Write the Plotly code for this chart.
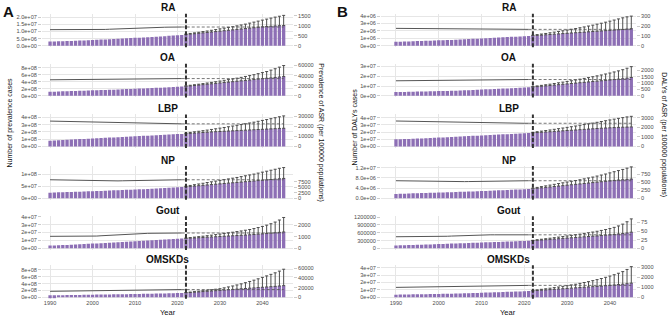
import plotly.graph_objects as go

W, H = 669, 318
years = list(range(1990, 2046))
proj_years = list(range(2022, 2046))
N_HIST = 32

# ---------------- Panel A : prevalence ----------------
A_RA_cases = [2.9,3.0,3.1,3.2,3.3,3.4,3.5,3.6,3.75,3.9,
              4.0,4.15,4.3,4.45,4.6,4.75,4.9,5.05,5.2,5.35,
              5.5,5.65,5.8,5.95,6.1,6.3,6.5,6.7,6.9,7.1,
              7.3,7.55,
              7.8,8.1,8.4,8.7,9.0,9.3,9.6,9.9,10.2,10.5,
              10.8,11.1,11.4,11.7,12.0,12.3,12.6,12.9,13.2,13.4,
              13.6,13.8,14.0,14.1]  # x1e6
A_RA_upper = [8.2,8.6,9.0,9.4,9.9,10.3,10.8,11.3,11.8,12.3,
              12.8,13.3,13.9,14.5,15.1,15.8,16.5,17.2,17.9,18.6,
              19.3,20.0,20.6,21.2]  # x1e6
A_RA_asr = [800,798,796,794,792,790,789,788,787,786,
            785,792,800,810,820,830,842,855,866,875,
            880,886,892,898,904,910,915,920,924,927,
            929,930,
            930,930,930,930,930,930,930,930,930,930,
            930,930,930,930,930,930,930,930,930,930,
            930,930,930,930]

A_OA_cases = [1.15,1.19,1.23,1.27,1.31,1.35,1.39,1.43,1.47,1.51,
              1.55,1.59,1.63,1.67,1.71,1.76,1.81,1.86,1.91,1.96,
              2.01,2.06,2.11,2.16,2.21,2.26,2.31,2.37,2.43,2.49,
              2.55,2.62,
              2.70,2.82,2.94,3.06,3.18,3.30,3.42,3.54,3.66,3.78,
              3.90,4.02,4.14,4.26,4.38,4.50,4.62,4.74,4.86,4.98,
              5.10,5.22,5.34,5.46]  # x1e8
A_OA_upper = [2.85,3.0,3.15,3.3,3.47,3.64,3.82,4.0,4.2,4.4,
              4.6,4.8,5.02,5.25,5.5,5.75,6.0,6.3,6.6,6.9,
              7.3,7.7,8.15,8.6]  # x1e8
A_OA_asr = [31600,31650,31700,31750,31800,31850,31900,31950,32000,32050,
            32100,32200,32300,32400,32500,32650,32800,32950,33100,33250,
            33400,33500,33600,33700,33750,33800,33850,33900,33950,33980,
            34000,34000,
            34000,34000,34000,34000,34000,34000,34000,34000,34000,34000,
            34000,34000,34000,34000,34000,34000,34000,34000,34000,34000,
            34000,34000,34000,34000]

A_LBP_cases = [0.80,0.83,0.86,0.89,0.92,0.95,0.98,1.01,1.04,1.07,
               1.10,1.13,1.16,1.19,1.22,1.25,1.28,1.31,1.34,1.37,
               1.40,1.43,1.46,1.49,1.52,1.55,1.58,1.61,1.64,1.67,
               1.70,1.73,
               1.76,1.80,1.84,1.88,1.92,1.96,2.00,2.03,2.06,2.09,
               2.12,2.15,2.18,2.21,2.24,2.27,2.30,2.33,2.36,2.39,
               2.42,2.45,2.48,2.50]  # x1e8
A_LBP_upper = [1.85,1.93,2.01,2.09,2.17,2.25,2.34,2.43,2.52,2.61,
               2.71,2.81,2.91,3.01,3.12,3.23,3.34,3.46,3.58,3.70,
               3.82,3.95,4.08,4.20]  # x1e8
A_LBP_asr = [25300,25200,25100,25000,24900,24800,24700,24600,24500,24400,
             24300,24200,24100,24000,23900,23800,23700,23600,23500,23400,
             23300,23200,23100,23000,22900,22800,22700,22650,22600,22580,
             22560,22550,
             22550,22550,22550,22550,22550,22550,22550,22550,22550,22550,
             22550,22550,22550,22550,22550,22550,22550,22550,22550,22550,
             22550,22550,22550,22550]

A_NP_cases = [2.30,2.36,2.42,2.48,2.54,2.60,2.66,2.72,2.78,2.84,
              2.90,2.97,3.04,3.11,3.18,3.25,3.32,3.39,3.46,3.53,
              3.60,3.68,3.76,3.84,3.92,4.00,4.10,4.20,4.30,4.40,
              4.50,4.60,
              4.75,4.90,5.05,5.20,5.35,5.50,5.65,5.80,5.95,6.10,
              6.25,6.40,6.55,6.70,6.85,7.00,7.15,7.30,7.45,7.60,
              7.75,7.90,8.05,8.20]  # x1e7
A_NP_upper = [5.0,5.3,5.6,5.9,6.2,6.5,6.8,7.1,7.4,7.7,
              8.0,8.3,8.6,8.95,9.3,9.65,10.0,10.4,10.8,11.2,
              11.6,12.0,12.4,12.7]  # x1e7
A_NP_asr = [8400,8350,8300,8250,8200,8150,8100,8050,8000,7950,
            7900,7850,7820,7800,7810,7840,7880,7930,7980,8040,
            8100,8150,8200,8250,8300,8340,8370,8390,8400,8400,
            8400,8400,
            8400,8400,8400,8400,8400,8400,8400,8400,8400,8400,
            8400,8400,8400,8400,8400,8400,8400,8400,8400,8400,
            8400,8400,8400,8400]

A_Gout_cases = [3.5,3.7,3.9,4.1,4.3,4.5,4.8,5.1,5.4,5.7,
                6.0,6.3,6.6,6.9,7.2,7.5,7.8,8.1,8.4,8.7,
                9.0,9.3,9.6,9.9,10.2,10.5,10.8,11.1,11.4,11.7,
                12.0,12.3,
                12.6,12.9,13.2,13.5,13.8,14.1,14.4,14.7,15.0,15.3,
                15.6,15.9,16.2,16.5,16.8,17.1,17.5,17.9,18.3,18.7,
                19.2,19.7,20.2,20.7]  # x1e6
A_Gout_upper = [13.0,13.6,14.2,14.8,15.4,16.0,16.7,17.4,18.1,18.8,
                19.6,20.4,21.2,22.0,22.9,23.8,25.0,26.3,27.7,29.3,
                31.1,33.2,35.8,39.0]  # x1e6
A_Gout_asr = [1050,1048,1046,1044,1042,1040,1040,1042,1045,1048,
              1052,1075,1100,1125,1150,1175,1200,1225,1250,1270,
              1285,1295,1305,1312,1318,1324,1330,1334,1337,1339,
              1340,1340,
              1340,1340,1340,1340,1340,1340,1340,1340,1340,1340,
              1340,1340,1340,1340,1340,1340,1340,1340,1340,1340,
              1340,1340,1340,1340]

A_OMSKDs_cases = [0.55,0.57,0.59,0.61,0.63,0.65,0.67,0.69,0.71,0.73,
                  0.75,0.77,0.79,0.81,0.83,0.85,0.87,0.89,0.91,0.93,
                  0.95,0.97,0.99,1.01,1.04,1.07,1.10,1.13,1.16,1.19,
                  1.22,1.26,
                  1.30,1.39,1.48,1.57,1.66,1.75,1.84,1.93,2.02,2.11,
                  2.20,2.29,2.38,2.47,2.56,2.65,2.74,2.83,2.92,3.01,
                  3.10,3.19,3.29,3.40]  # x1e8
A_OMSKDs_upper = [1.40,1.52,1.65,1.78,1.92,2.06,2.20,2.35,2.50,2.75,
                  3.02,3.30,3.60,3.92,4.26,4.62,5.00,5.40,5.82,6.25,
                  6.70,7.15,7.65,8.20]  # x1e8
A_OMSKDs_asr = [12300,12450,12600,12750,12900,13050,13200,13350,13500,13650,
                13800,14000,14200,14400,14600,14800,15000,15200,15400,15600,
                15800,15850,15900,15950,16000,16000,16000,16000,16000,16000,
                16000,16000,
                16000,16000,16000,16000,16000,16000,16000,16000,16000,16000,
                16000,16000,16000,16000,16000,16000,16000,16000,16000,16000,
                16000,16000,16000,16000]

# ---------------- Panel B : DALYs ----------------
B_RA_cases = [0.53,0.55,0.57,0.59,0.61,0.63,0.65,0.67,0.69,0.71,
              0.73,0.75,0.77,0.79,0.81,0.84,0.87,0.90,0.93,0.96,
              0.99,1.02,1.05,1.08,1.11,1.14,1.17,1.20,1.23,1.26,
              1.29,1.32,
              1.36,1.40,1.44,1.48,1.52,1.56,1.60,1.64,1.68,1.72,
              1.76,1.80,1.84,1.88,1.92,1.96,2.00,2.04,2.08,2.12,
              2.16,2.20,2.25,2.30]  # x1e6
B_RA_upper = [1.42,1.50,1.58,1.66,1.75,1.84,1.93,2.02,2.12,2.22,
              2.32,2.43,2.54,2.66,2.78,2.91,3.04,3.18,3.32,3.47,
              3.62,3.77,3.90,4.00]  # x1e6
B_RA_asr = [176,175.5,175,174.5,174,173.5,173,172.5,172,171.5,
            171,170.5,170,169.6,169.2,168.8,168.4,168,167.7,167.4,
            167.1,166.8,166.5,166.3,166.1,166,166,166,166,166,
            166,166,
            166,166,166,166,166,166,166,166,166,166,
            166,166,166,166,166,166,166,166,166,166,
            166,166,166,166]

B_OA_cases = [0.38,0.39,0.40,0.41,0.42,0.43,0.44,0.45,0.46,0.47,
              0.48,0.49,0.50,0.51,0.52,0.54,0.56,0.58,0.60,0.62,
              0.64,0.66,0.68,0.70,0.72,0.74,0.76,0.78,0.80,0.82,
              0.84,0.87,
              0.90,0.94,0.98,1.02,1.06,1.10,1.14,1.18,1.22,1.26,
              1.30,1.34,1.38,1.42,1.46,1.50,1.54,1.58,1.62,1.66,
              1.70,1.74,1.80,1.87]  # x1e7
B_OA_upper = [0.95,1.01,1.07,1.13,1.19,1.26,1.33,1.40,1.47,1.54,
              1.62,1.70,1.78,1.86,1.95,2.04,2.13,2.23,2.33,2.44,
              2.55,2.67,2.82,2.98]  # x1e7
B_OA_asr = [1170,1172,1174,1176,1178,1180,1182,1184,1186,1188,
            1190,1195,1200,1205,1210,1215,1220,1225,1230,1235,
            1240,1245,1250,1254,1258,1261,1264,1266,1268,1269,
            1270,1270,
            1270,1270,1270,1270,1270,1270,1270,1270,1270,1270,
            1270,1270,1270,1270,1270,1270,1270,1270,1270,1270,
            1270,1270,1270,1270]

B_LBP_cases = [0.99,1.01,1.03,1.05,1.07,1.09,1.11,1.14,1.17,1.20,
               1.23,1.26,1.29,1.32,1.35,1.38,1.41,1.44,1.47,1.50,
               1.53,1.56,1.59,1.62,1.65,1.68,1.71,1.74,1.77,1.80,
               1.83,1.86,
               1.89,1.93,1.97,2.01,2.05,2.09,2.13,2.17,2.21,2.25,
               2.29,2.33,2.37,2.41,2.45,2.49,2.53,2.56,2.59,2.62,
               2.65,2.67,2.69,2.71]  # x1e7
B_LBP_upper = [1.97,2.05,2.13,2.21,2.29,2.38,2.47,2.56,2.65,2.74,
               2.84,2.94,3.04,3.14,3.24,3.35,3.46,3.57,3.68,3.79,
               3.90,4.00,4.10,4.18]  # x1e7
B_LBP_asr = [2650,2640,2630,2620,2610,2600,2590,2580,2570,2560,
             2550,2540,2530,2520,2510,2500,2490,2480,2470,2462,
             2455,2448,2441,2435,2430,2425,2420,2417,2415,2415,
             2415,2415,
             2415,2415,2415,2415,2415,2415,2415,2415,2415,2415,
             2415,2415,2415,2415,2415,2415,2415,2415,2415,2415,
             2415,2415,2415,2415]

B_NP_cases = [1.70,1.75,1.80,1.85,1.90,1.95,2.00,2.05,2.10,2.15,
              2.20,2.26,2.32,2.38,2.44,2.50,2.56,2.62,2.68,2.74,
              2.80,2.87,2.94,3.01,3.08,3.15,3.22,3.30,3.38,3.46,
              3.54,3.62,
              3.75,3.92,4.09,4.26,4.43,4.60,4.77,4.94,5.11,5.28,
              5.45,5.62,5.79,5.96,6.13,6.30,6.47,6.64,6.81,6.98,
              7.12,7.25,7.38,7.50]  # x1e6
B_NP_upper = [3.95,4.25,4.55,4.85,5.15,5.45,5.75,6.05,6.35,6.65,
              6.95,7.25,7.60,7.95,8.30,8.70,9.10,9.50,9.95,10.4,
              10.85,11.3,11.8,12.3]  # x1e6
B_NP_asr = [545,542,539,536,533,530,527,524,521,518,
            516,515,514,514,514,515,517,519,522,525,
            528,531,534,537,540,542,544,545,545,545,
            545,545,
            545,545,545,545,545,545,545,545,545,545,
            545,545,545,545,545,545,545,545,545,545,
            545,545,545,545]

B_Gout_cases = [1.10,1.15,1.20,1.25,1.30,1.35,1.40,1.46,1.52,1.58,
                1.64,1.70,1.76,1.82,1.88,1.94,2.00,2.06,2.12,2.18,
                2.24,2.30,2.36,2.42,2.48,2.54,2.60,2.66,2.72,2.78,
                2.84,2.90,
                2.98,3.10,3.22,3.34,3.46,3.58,3.70,3.82,3.94,4.06,
                4.18,4.30,4.42,4.54,4.66,4.78,4.92,5.06,5.20,5.34,
                5.50,5.68,5.90,6.20]  # x1e5
B_Gout_upper = [3.10,3.30,3.50,3.70,3.90,4.10,4.32,4.54,4.76,4.98,
                5.22,5.46,5.72,5.98,6.26,6.56,6.88,7.22,7.60,8.05,
                8.60,9.30,10.20,11.30]  # x1e5
B_Gout_asr = [33.7,33.7,33.6,33.6,33.5,33.5,33.5,33.6,33.7,33.8,
              33.9,34.5,35.1,35.7,36.3,36.9,37.4,37.9,38.4,38.8,
              39.1,39.2,39.3,39.3,39.3,39.3,39.3,39.3,39.3,39.3,
              39.3,39.3,
              39.3,39.3,39.3,39.3,39.3,39.3,39.3,39.3,39.3,39.3,
              39.3,39.3,39.3,39.3,39.3,39.3,39.3,39.3,39.3,39.3,
              39.3,39.3,39.3,39.3]

B_OMSKDs_cases = [0.35,0.36,0.37,0.38,0.39,0.40,0.41,0.42,0.43,0.44,
                  0.45,0.46,0.47,0.48,0.49,0.51,0.53,0.55,0.57,0.59,
                  0.61,0.63,0.65,0.67,0.69,0.71,0.73,0.75,0.77,0.79,
                  0.81,0.84,
                  0.87,0.91,0.95,0.99,1.03,1.07,1.11,1.15,1.19,1.23,
                  1.27,1.31,1.35,1.39,1.43,1.47,1.51,1.56,1.61,1.66,
                  1.71,1.76,1.83,1.90]  # x1e7
B_OMSKDs_upper = [0.93,1.00,1.07,1.14,1.22,1.30,1.38,1.47,1.56,1.66,
                  1.76,1.87,1.99,2.11,2.24,2.38,2.53,2.69,2.86,3.04,
                  3.24,3.46,3.75,4.13]  # x1e7
B_OMSKDs_asr = [990,995,1000,1005,1010,1015,1020,1025,1030,1035,
                1040,1050,1060,1070,1080,1090,1100,1110,1120,1130,
                1140,1150,1158,1165,1171,1176,1180,1184,1187,1189,
                1190,1190,
                1190,1190,1190,1190,1190,1190,1190,1190,1190,1190,
                1190,1190,1190,1190,1190,1190,1190,1190,1190,1190,
                1190,1190,1190,1190]

# tick labels
A_left_ticks = {
    "RA": ([0, 5e6, 1e7, 1.5e7, 2e7], ["0.0e+00", "5.0e+06", "1.0e+07", "1.5e+07", "2.0e+07"]),
    "OA": ([0, 2e8, 4e8, 6e8, 8e8], ["0e+00", "2e+08", "4e+08", "6e+08", "8e+08"]),
    "LBP": ([0, 1e8, 2e8, 3e8, 4e8], ["0e+00", "1e+08", "2e+08", "3e+08", "4e+08"]),
    "NP": ([0, 5e7, 1e8], ["0e+00", "5e+07", "1e+08"]),
    "Gout": ([0, 1e7, 2e7, 3e7, 4e7], ["0e+00", "1e+07", "2e+07", "3e+07", "4e+07"]),
    "OMSKDs": ([0, 2e8, 4e8, 6e8, 8e8], ["0e+00", "2e+08", "4e+08", "6e+08", "8e+08"]),
}
A_right_ticks = {
    "RA": [0, 500, 1000, 1500],
    "OA": [0, 20000, 40000, 60000],
    "LBP": [0, 10000, 20000, 30000],
    "NP": [0, 2500, 5000, 7500],
    "Gout": [0, 1000, 2000],
    "OMSKDs": [0, 20000, 40000, 60000],
}
B_left_ticks = {
    "RA": ([0, 1e6, 2e6, 3e6, 4e6], ["0e+00", "1e+06", "2e+06", "3e+06", "4e+06"]),
    "OA": ([0, 1e7, 2e7, 3e7], ["0e+00", "1e+07", "2e+07", "3e+07"]),
    "LBP": ([0, 1e7, 2e7, 3e7, 4e7], ["0e+00", "1e+07", "2e+07", "3e+07", "4e+07"]),
    "NP": ([0, 4e6, 8e6, 1.2e7], ["0.0e+00", "4.0e+06", "8.0e+06", "1.2e+07"]),
    "Gout": ([0, 3e5, 6e5, 9e5, 1.2e6], ["0", "300000", "600000", "900000", "1200000"]),
    "OMSKDs": ([0, 1e7, 2e7, 3e7, 4e7], ["0e+00", "1e+07", "2e+07", "3e+07", "4e+07"]),
}
B_right_ticks = {
    "RA": [0, 100, 200, 300],
    "OA": [0, 500, 1000, 1500, 2000],
    "LBP": [0, 1000, 2000, 3000],
    "NP": [0, 250, 500, 750],
    "Gout": [0, 25, 50, 75],
    "OMSKDs": [0, 1000, 2000, 3000],
}
year_ticks = [1990, 2000, 2010, 2020, 2030, 2040]
diseases = ["RA", "OA", "LBP", "NP", "Gout", "OMSKDs"]

# per panel: (cases, unit, upper, asr, left_top, right_top)
panelsA = {
    "RA": (A_RA_cases, 1e6, A_RA_upper, A_RA_asr, 2.24e7, 1593),
    "OA": (A_OA_cases, 1e8, A_OA_upper, A_OA_asr, 9.12e8, 63300),
    "LBP": (A_LBP_cases, 1e8, A_LBP_upper, A_LBP_asr, 4.41e8, 31970),
    "NP": (A_NP_cases, 1e7, A_NP_upper, A_NP_asr, 1.33e8, 14600),
    "Gout": (A_Gout_cases, 1e6, A_Gout_upper, A_Gout_asr, 4.05e7, 2800),
    "OMSKDs": (A_OMSKDs_cases, 1e8, A_OMSKDs_upper, A_OMSKDs_asr, 9.39e8, 66550),
}
panelsB = {
    "RA": (B_RA_cases, 1e6, B_RA_upper, B_RA_asr, 4.33e6, 325),
    "OA": (B_OA_cases, 1e7, B_OA_upper, B_OA_asr, 3.28e7, 2500),
    "LBP": (B_LBP_cases, 1e7, B_LBP_upper, B_LBP_asr, 4.45e7, 3340),
    "NP": (B_NP_cases, 1e6, B_NP_upper, B_NP_asr, 1.26e7, 1000),
    "Gout": (B_Gout_cases, 1e5, B_Gout_upper, B_Gout_asr, 1.23e6, 93),
    "OMSKDs": (B_OMSKDs_cases, 1e7, B_OMSKDs_upper, B_OMSKDs_asr, 4.33e7, 3218),
}
for d in (panelsA, panelsB):
    for k, v in d.items():
        assert len(v[0]) == 56 and len(v[2]) == 24 and len(v[3]) == 56, k

FONT = "Liberation Sans, Arial, sans-serif"
BAR_COLOR = "#8d6fb5"
ERR_COLOR = "#4d4d4d"
LINE_COLOR = "#555555"
GRID = "#e6e6e6"
TICKFONT = dict(size=5.6, color="#4d4d4d", family=FONT)

zero_px = [43.3, 94.0, 145.3, 197.7, 248.5, 298.0]
ABOVE, BELOW = 32.5, 1.6
cols = {
    "A": dict(x0=42, x1=293, xr=[1988.1, 2047.2], left=panelsA, lt=A_left_ticks, rt=A_right_ticks),
    "B": dict(x0=381, x1=636, xr=[1986.5, 2046.1], left=panelsB, lt=B_left_ticks, rt=B_right_ticks),
}

fig = go.Figure()
layout = {}
annotations = []
shapes = []


def ref(prefix, n):
    return prefix if n == 1 else f"{prefix}{n}"


k = 0
for cname in ["A", "B"]:
    c = cols[cname]
    for r, dis in enumerate(diseases):
        k += 1
        cases, unit, upper, asr, ltop, rtop = c["left"][dis]
        xa = ref("x", k)
        yl = ref("y", 2 * k - 1)
        yr = ref("y", 2 * k)
        z = zero_px[r]
        top, bot = z - ABOVE, z + BELOW
        ydom = [1 - bot / H, 1 - top / H]
        xdom = [c["x0"] / W, c["x1"] / W]
        lrange = [-ltop * BELOW / ABOVE, ltop]
        rrange = [-rtop * BELOW / ABOVE, rtop]
        vals = [v * unit for v in cases]
        up = [v * unit for v in upper]

        fig.add_trace(go.Bar(x=years[:N_HIST], y=vals[:N_HIST], width=0.78,
                             marker=dict(color=BAR_COLOR, line=dict(width=0)),
                             xaxis=xa, yaxis=yl, showlegend=False))
        fig.add_trace(go.Bar(x=proj_years, y=vals[N_HIST:], width=0.78,
                             marker=dict(color=BAR_COLOR, line=dict(width=0)),
                             error_y=dict(type="data", symmetric=False,
                                          array=[u - v for u, v in zip(up, vals[N_HIST:])],
                                          arrayminus=[0] * len(up),
                                          color=ERR_COLOR, thickness=1, width=1.5),
                             xaxis=xa, yaxis=yl, showlegend=False))
        fig.add_trace(go.Scatter(x=years[:N_HIST], y=asr[:N_HIST], mode="lines",
                                 line=dict(color=LINE_COLOR, width=1),
                                 xaxis=xa, yaxis=yr, showlegend=False))
        fig.add_trace(go.Scatter(x=years[N_HIST - 1:], y=asr[N_HIST - 1:], mode="lines",
                                 line=dict(color=LINE_COLOR, width=0.8, dash="3px,2px"),
                                 xaxis=xa, yaxis=yr, showlegend=False))

        shapes.append(dict(type="line", xref=xa, yref=f"{yl} domain", x0=2022, x1=2022,
                           y0=0, y1=1, line=dict(color="#333333", width=2, dash="4px,2px")))

        lt_vals, lt_text = c["lt"][dis]
        rt_vals = c["rt"][dis]
        layout[ref("xaxis", k)] = dict(domain=xdom, range=c["xr"], anchor=yl,
                                       tickvals=year_ticks, showticklabels=(r == 5),
                                       showgrid=True, gridcolor=GRID, gridwidth=0.6,
                                       zeroline=False, showline=False, ticks="",
                                       tickfont=TICKFONT)
        layout[ref("yaxis", 2 * k - 1)] = dict(domain=ydom, range=lrange, anchor=xa,
                                               tickvals=lt_vals, ticktext=lt_text,
                                               showgrid=True, gridcolor=GRID, gridwidth=0.6,
                                               zeroline=False, showline=False,
                                               ticks="outside", ticklen=3, tickcolor="#cccccc",
                                               tickwidth=0.6, tickfont=TICKFONT)
        layout[ref("yaxis", 2 * k)] = dict(range=rrange, anchor=xa, overlaying=yl, side="right",
                                           tickvals=rt_vals, ticktext=[str(v) for v in rt_vals],
                                           showgrid=False, zeroline=False, showline=False,
                                           ticks="outside", ticklen=3, tickcolor="#cccccc",
                                           tickwidth=0.6, tickfont=TICKFONT)
        annotations.append(dict(text=f"<b>{dis}</b>", xref="paper", yref="paper",
                                x=(c["x0"] + c["x1"]) / 2 / W, y=1 - (z - 38.5) / H,
                                showarrow=False, xanchor="center", yanchor="middle",
                                font=dict(size=10, color="#111111", family=FONT)))


def ann(text, xp, yp, size, angle=0, bold=False):
    annotations.append(dict(text=f"<b>{text}</b>" if bold else text, xref="paper", yref="paper",
                            x=xp / W, y=1 - yp / H, showarrow=False, textangle=angle,
                            xanchor="center", yanchor="middle",
                            font=dict(size=size, color="#111111", family=FONT)))


ann("A", 8, 9, 15, bold=True)
ann("B", 342, 9, 15, bold=True)
ann("Number of prevalence cases", 10, 121, 7, angle=-90)
ann("Prevalence of ASR (per 100000 populations)", 321, 131, 7, angle=90)
ann("Number of DALYs cases", 354, 126, 7, angle=-90)
ann("DALYs of ASR (per 100000 populations)", 664, 133, 7, angle=90)
ann("Year", 168, 313, 7.5)
ann("Year", 508, 313, 7.5)

fig.update_layout(width=W, height=H, margin=dict(l=0, r=0, t=0, b=0),
                  paper_bgcolor="white", plot_bgcolor="white",
                  barmode="overlay", annotations=annotations, shapes=shapes,
                  font=dict(family=FONT), **layout)
fig.write_html("out.html", config={"displayModeBar": False},
               post_script="document.body.style.margin='0px';")
